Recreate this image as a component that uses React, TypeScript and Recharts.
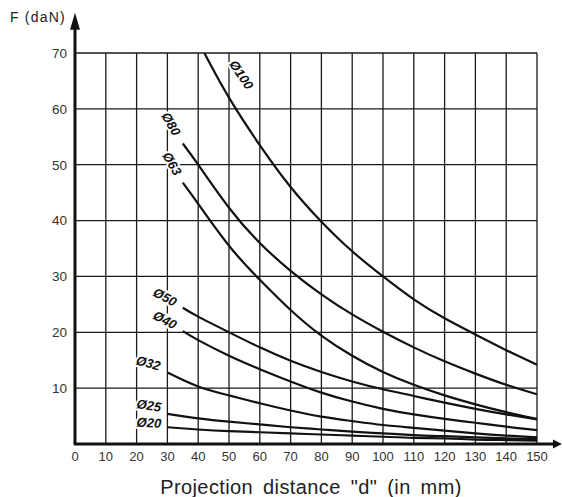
import { JSX } from "react";
import {
  LineChart,
  Line,
  XAxis,
  YAxis,
  CartesianGrid,
  ReferenceLine,
  ReferenceDot,
} from "recharts";

// projection distance (mm)
const dist100 = [42, 50, 60, 70, 80, 90, 100, 110, 120, 130, 140, 150];
const dist35 = [35, 40, 50, 60, 70, 80, 90, 100, 110, 120, 130, 140, 150];
const dist30 = [30, 40, 50, 60, 70, 80, 90, 100, 110, 120, 130, 140, 150];

// force F (daN) per bore
const f100 = [70, 62, 53.5, 46, 39.8, 34.5, 30, 25.9, 22.5, 19.6, 16.8, 14.2];
const f80 = [53.8, 50, 42.3, 36, 31, 26.8, 23.2, 20.1, 17.3, 14.8, 12.6, 10.6, 8.9];
const f63 = [46.8, 43, 35.5, 29.4, 24, 19.4, 15.8, 12.9, 10.6, 8.7, 7.1, 5.7, 4.5];
const f50 = [24.4, 22.8, 20, 17.3, 14.9, 12.9, 11.2, 9.8, 8.6, 7.4, 6.3, 5.3, 4.4];
const f40 = [20.2, 18.6, 15.8, 13.4, 11.2, 9.2, 7.6, 6.3, 5.3, 4.5, 3.8, 3.1, 2.5];
const f32 = [12.8, 10.3, 8.7, 7.3, 6.0, 4.9, 4.1, 3.4, 2.9, 2.4, 1.9, 1.5, 1.2];
const f25 = [5.4, 4.6, 4.0, 3.5, 3.0, 2.6, 2.2, 1.9, 1.6, 1.4, 1.2, 1.0, 0.9];
const f20 = [3.0, 2.6, 2.3, 2.1, 1.9, 1.7, 1.5, 1.3, 1.1, 1.0, 0.8, 0.7, 0.6];

const xTicks = [0, 10, 20, 30, 40, 50, 60, 70, 80, 90, 100, 110, 120, 130, 140, 150];
const yTicks = [10, 20, 30, 40, 50, 60, 70];

const toPoints = (ds: number[], fs: number[]) => ds.map((d, i) => ({ d, f: fs[i] }));

const series = [
  { name: "Ø100", data: toPoints(dist100, f100) },
  { name: "Ø80", data: toPoints(dist35, f80) },
  { name: "Ø63", data: toPoints(dist35, f63) },
  { name: "Ø50", data: toPoints(dist35, f50) },
  { name: "Ø40", data: toPoints(dist35, f40) },
  { name: "Ø32", data: toPoints(dist30, f32) },
  { name: "Ø25", data: toPoints(dist30, f25) },
  { name: "Ø20", data: toPoints(dist30, f20) },
];

// where the bore labels sit along the curves
const curveLabels = [
  { name: "Ø100", d: 54, f: 66.1, angle: 56 },
  { name: "Ø80", d: 31.2, f: 57.3, angle: 60 },
  { name: "Ø63", d: 31.5, f: 50.2, angle: 60 },
  { name: "Ø50", d: 29.2, f: 26.3, angle: 28 },
  { name: "Ø40", d: 29.2, f: 22.2, angle: 28 },
  { name: "Ø32", d: 23.8, f: 14.5, angle: 15 },
  { name: "Ø25", d: 24, f: 6.9, angle: 9 },
  { name: "Ø20", d: 24, f: 3.8, angle: 4 },
];

const font = '"Liberation Sans", Arial, sans-serif';

const arrowLine = (len: number, half: number) => (props: any) => {
  const { x1, y1, x2, y2 } = props;
  const dx = x2 - x1;
  const dy = y2 - y1;
  const l = Math.sqrt(dx * dx + dy * dy) || 1;
  const ux = dx / l;
  const uy = dy / l;
  const bx = x2 - ux * len;
  const by = y2 - uy * len;
  const pts = `${x2},${y2} ${bx - uy * half},${by + ux * half} ${bx + uy * half},${by - ux * half}`;
  return (
    <g>
      <line x1={x1} y1={y1} x2={bx + ux} y2={by + uy} stroke="#111" strokeWidth={3} />
      <polygon points={pts} fill="#111" />
    </g>
  );
};

const boreLabel = (text: string, angle: number) => (props: any) => (
  <text
    x={props.cx}
    y={props.cy}
    transform={`rotate(${angle} ${props.cx} ${props.cy})`}
    textAnchor="middle"
    dominantBaseline="central"
    fontFamily={font}
    fontSize={13}
    fontWeight="bold"
    fontStyle="italic"
    fill="#111"
    stroke="#fff"
    strokeWidth={4}
    paintOrder="stroke"
  >
    {text}
  </text>
);

export default function App(): JSX.Element {
  return (
    <div style={{ position: "relative", width: 562, height: 497, fontFamily: font }}>
      <style>{`body{margin:0}`}</style>
      <LineChart width={562} height={497} margin={{ top: 53, right: 25, bottom: 0, left: 0 }}>
        <CartesianGrid stroke="#1a1a1a" strokeWidth={1.3} />
        <XAxis
          type="number"
          dataKey="d"
          domain={[0, 150]}
          ticks={xTicks}
          height={53}
          axisLine={false}
          tickLine={false}
          tick={{ fill: "#333", fontSize: 13, fontFamily: font }}
          allowDataOverflow
        />
        <YAxis
          type="number"
          dataKey="f"
          domain={[0, 70]}
          ticks={yTicks}
          width={75}
          axisLine={false}
          tickLine={false}
          tick={{ fill: "#333", fontSize: 13.5, fontFamily: font }}
          allowDataOverflow
        />
        {series.map((s) => (
          <Line
            key={s.name}
            data={s.data}
            dataKey="f"
            name={s.name}
            type="natural"
            stroke="#111"
            strokeWidth={2.2}
            dot={false}
            isAnimationActive={false}
          />
        ))}
        {curveLabels.map((c) => (
          <ReferenceDot key={c.name} x={c.d} y={c.f} r={0} shape={boreLabel(c.name, c.angle)} />
        ))}
        <ReferenceLine
          segment={[{ x: 0, y: 0 }, { x: 0, y: 77.2 }]}
          ifOverflow="visible"
          shape={arrowLine(17, 5)}
        />
        <ReferenceLine
          segment={[{ x: -0.4, y: 0 }, { x: 158.1, y: 0 }]}
          ifOverflow="visible"
          shape={arrowLine(9, 4.5)}
        />
      </LineChart>
      <div
        style={{
          position: "absolute",
          left: 10,
          top: 9,
          fontSize: 14,
          letterSpacing: 1.2,
          color: "#222",
          lineHeight: "16px",
        }}
      >
        F (daN)
      </div>
      <div
        style={{
          position: "absolute",
          left: 0,
          width: 622,
          top: 476,
          textAlign: "center",
          fontSize: 20,
          letterSpacing: 0.4,
          wordSpacing: 4,
          color: "#222",
          lineHeight: "22px",
          whiteSpace: "nowrap",
        }}
      >
        Projection distance "d" (in mm)
      </div>
    </div>
  );
}
